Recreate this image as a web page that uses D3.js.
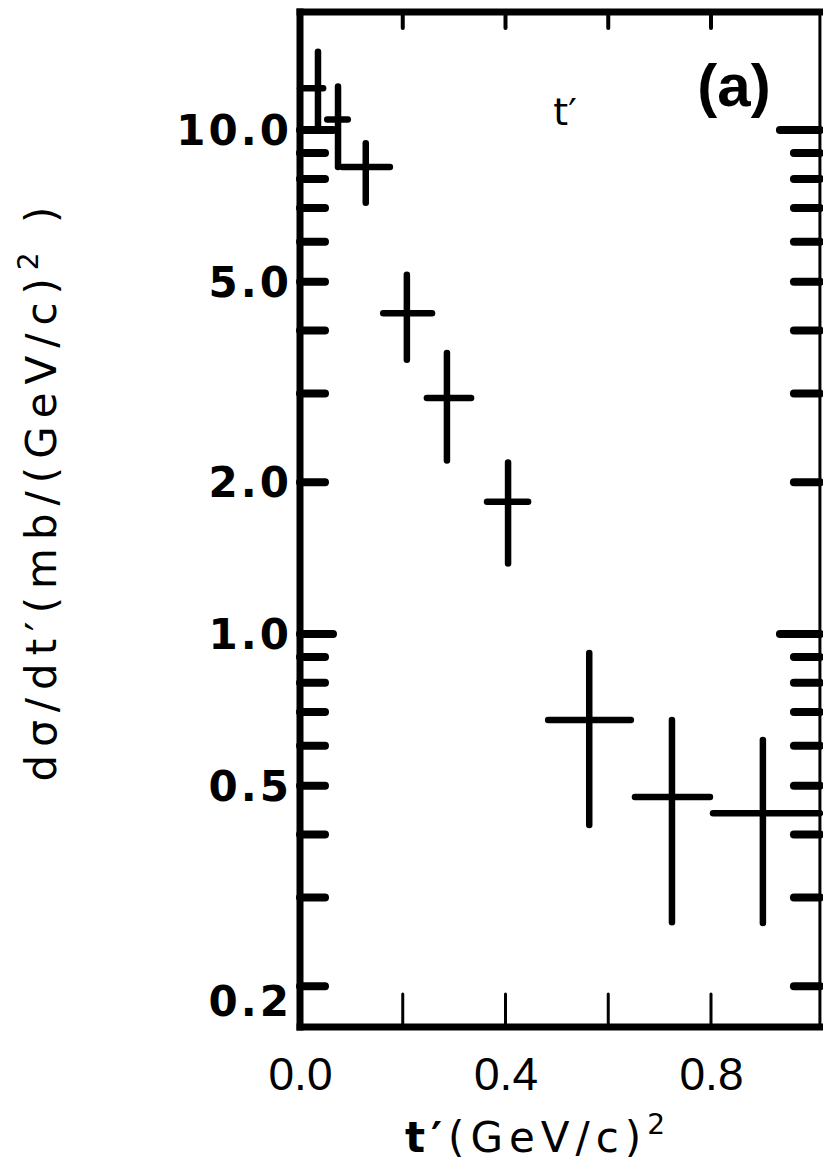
<!DOCTYPE html>
<html>
<head>
<meta charset="utf-8">
<script src="https://cdn.jsdelivr.net/npm/d3@7"></script>
<style>
  html, body { margin: 0; padding: 0; background: #fff; }
  svg { display: block; }
</style>
</head>
<body>
<svg id="chart" width="823" height="1162"></svg>
<script>
// ---- data ----
const tCenter = [0.035, 0.074, 0.128, 0.208, 0.286, 0.405, 0.563, 0.724, 0.901];
const tLow    = [0.000, 0.053, 0.082, 0.162, 0.247, 0.364, 0.483, 0.652, 0.804];
const tHigh   = [0.045, 0.093, 0.175, 0.257, 0.333, 0.444, 0.644, 0.798, 1.012];
const sigma     = [12.1, 10.5, 8.45, 4.33, 2.94, 1.83, 0.675, 0.475, 0.441];
const sigmaLow  = [10.2, 8.45, 7.17, 3.50, 2.21, 1.38, 0.418, 0.268, 0.267];
const sigmaHigh = [14.3, 12.2, 9.42, 5.16, 3.61, 2.19, 0.917, 0.675, 0.616];

const yTickLabels = [0.2, 0.5, 1, 2, 5, 10];
const yMajorTicks = [1, 10];
const yMinorTicks = [0.2, 0.3, 0.4, 0.5, 0.6, 0.7, 0.8, 0.9, 2, 3, 4, 5, 6, 7, 8, 9];
const xTickLabels = [0.0, 0.4, 0.8];
const xTicks = [0.2, 0.4, 0.6, 0.8];

(function () {
const svg = d3.select("#chart");

const x = d3.scaleLinear().domain([0, 1]).range([300, 813.75]);
const xMax = 1.012;
const y = d3.scaleLog().domain([0.166, 17.15]).range([1027, 12]);

const pLeft = x(0), pRight = x(xMax), pTop = y.range()[1], pBottom = y.range()[0];

// ---- frame ----
const frame = svg.append("g").attr("stroke", "#000").attr("stroke-linecap", "square");
frame.append("line").attr("x1", pLeft).attr("x2", pRight).attr("y1", pTop).attr("y2", pTop).attr("stroke-width", 7);
frame.append("line").attr("x1", pLeft).attr("x2", pRight).attr("y1", pBottom).attr("y2", pBottom).attr("stroke-width", 7);
frame.append("line").attr("x1", pLeft).attr("x2", pLeft).attr("y1", pTop).attr("y2", pBottom).attr("stroke-width", 7);
frame.append("line").attr("x1", pRight).attr("x2", pRight).attr("y1", pTop).attr("y2", pBottom).attr("stroke-width", 3);

// ---- y ticks (both sides) ----
const ticks = svg.append("g").attr("stroke", "#000").attr("stroke-linecap", "round");
function yTick(v, len, side) {
  const yy = y(v);
  if (side === "left") {
    ticks.append("line").attr("x1", pLeft).attr("x2", pLeft + len).attr("y1", yy).attr("y2", yy).attr("stroke-width", 8);
  } else {
    ticks.append("line").attr("x1", pRight).attr("x2", pRight - len).attr("y1", yy).attr("y2", yy).attr("stroke-width", 8);
  }
}
yMinorTicks.forEach(v => { yTick(v, 25, "left"); yTick(v, 26, "right"); });
yMajorTicks.forEach(v => { yTick(v, 33, "left"); yTick(v, 40, "right"); });

// ---- x ticks (top & bottom) ----
xTicks.forEach(v => {
  ticks.append("line").attr("x1", x(v)).attr("x2", x(v)).attr("y1", pTop).attr("y2", pTop + 16).attr("stroke-width", 4);
  ticks.append("line").attr("x1", x(v)).attr("x2", x(v)).attr("y1", pBottom).attr("y2", pBottom - 33).attr("stroke-width", 3);
});

// ---- axis labels via d3 axes ----
const yAxis = svg.append("g")
  .attr("transform", `translate(${pLeft - 8},0)`)
  .call(d3.axisLeft(y).tickValues(yTickLabels).tickFormat(d3.format(".1f")).tickSize(0).tickPadding(0));
yAxis.select(".domain").remove();
yAxis.selectAll("text")
  .attr("font-family", "'DejaVu Sans', sans-serif")
  .attr("font-weight", "bold")
  .attr("font-size", 42)
  .attr("letter-spacing", 3)
  .attr("fill", "#000")
  .attr("dy", d => d === 0.2 ? "0.7em" : "0.35em");

const xAxis = svg.append("g")
  .attr("transform", `translate(0,${pBottom})`)
  .call(d3.axisBottom(x).tickValues(xTickLabels).tickFormat(d3.format(".1f")).tickSize(0).tickPadding(30));
xAxis.select(".domain").remove();
xAxis.selectAll("text")
  .attr("font-family", "'Liberation Sans', sans-serif")
  .attr("font-size", 46)
  .attr("fill", "#000");

// ---- data crosses ----
const pts = svg.append("g").attr("stroke", "#000").attr("stroke-width", 6.5).attr("stroke-linecap", "round");
tCenter.forEach((t, i) => {
  pts.append("line")
    .attr("x1", x(Math.max(tLow[i], 0))).attr("x2", x(tHigh[i]))
    .attr("y1", y(sigma[i])).attr("y2", y(sigma[i]));
  pts.append("line")
    .attr("x1", x(t)).attr("x2", x(t))
    .attr("y1", y(sigmaLow[i])).attr("y2", y(sigmaHigh[i]));
});

// ---- text annotations ----
svg.append("text")
  .attr("x", 734).attr("y", 106)
  .attr("text-anchor", "middle")
  .attr("font-family", "'Liberation Sans', sans-serif")
  .attr("font-weight", "bold")
  .attr("font-size", 60)
  .text("(a)");

svg.append("text")
  .attr("x", 565).attr("y", 125)
  .attr("text-anchor", "middle")
  .attr("font-family", "'DejaVu Sans', sans-serif")
  .attr("font-size", 38)
  .text("t′");

// x title
const xt = svg.append("text")
  .attr("x", 538).attr("y", 1152)
  .attr("text-anchor", "middle")
  .attr("font-family", "'DejaVu Sans', sans-serif")
  .attr("font-size", 42)
  .attr("letter-spacing", 6);
xt.append("tspan").attr("font-weight", "bold").text("t′");
xt.append("tspan").text("(GeV/c)");
xt.append("tspan").attr("font-size", 28).attr("dy", -18).text("2");

// y title
const yt = svg.append("text")
  .attr("transform", "translate(56,490) rotate(-90)")
  .attr("text-anchor", "middle")
  .attr("font-family", "'DejaVu Sans', sans-serif")
  .attr("font-size", 42)
  .attr("letter-spacing", 8);
yt.append("tspan").text("dσ/dt′(mb/(GeV/c)");
yt.append("tspan").attr("font-size", 28).attr("dy", -18).text("2");
yt.append("tspan").attr("dy", 18).text(" )");
})();
</script>
</body>
</html>
